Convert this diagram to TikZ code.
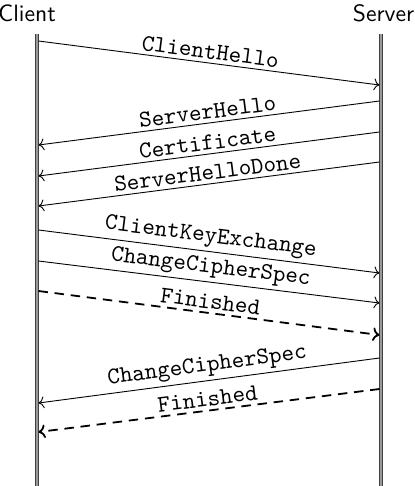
\documentclass[tikz,border=0pt]{standalone}
\usetikzlibrary{arrows.meta}
\begin{document}
\begin{tikzpicture}[x=0.444pt,y=-0.444pt,
  actor/.style={font=\sffamily\fontsize{10.5}{12}\selectfont, inner sep=0pt, anchor=base},
  lifeline/.style={draw=black!75, double=gray!80, double distance=1.1pt, line width=0.5pt},
  msg/.style={->, line width=0.4pt},
  finmsg/.style={-{To[length=3pt,width=6pt]}, thick, dashed, dash pattern=on 4.2pt off 3pt},
  lbl/.style={font=\ttfamily\fontsize{10.6}{12}\selectfont, sloped, above, midway, inner sep=1.5pt}]
\useasboundingbox (0,0) rectangle (415,486);
\node[actor] (client) at (27,21) {Client};
\node[actor] (server) at (383.5,21) {Server};
\coordinate (ctop) at (37,34);
\coordinate (cbot) at (37,490);
\coordinate (stop) at (381,34);
\coordinate (sbot) at (381,490);
\draw[lifeline] (ctop) -- (cbot);
\draw[lifeline] (stop) -- (sbot);
% message endpoints
\coordinate (c1) at (38.5,41);  \coordinate (s1) at (379.5,85);
\coordinate (s2) at (379.5,101); \coordinate (c2) at (38.5,145);
\coordinate (s3) at (379.5,132); \coordinate (c3) at (38.5,176);
\coordinate (s4) at (379.5,162); \coordinate (c4) at (38.5,206);
\coordinate (c5) at (38.5,230); \coordinate (s5) at (379.5,273);
\coordinate (c6) at (38.5,261); \coordinate (s6) at (379.5,303);
\coordinate (c7) at (38.5,291); \coordinate (s7) at (379.5,335);
\coordinate (s8) at (379.5,358); \coordinate (c8) at (38.5,403);
\coordinate (s9) at (379.5,389); \coordinate (c9) at (38.5,432);
\draw[msg] (c1) -- node[lbl] {ClientHello} (s1);
\draw[msg] (s2) -- node[lbl] {ServerHello} (c2);
\draw[msg] (s3) -- node[lbl] {Certificate} (c3);
\draw[msg] (s4) -- node[lbl] {ServerHelloDone} (c4);
\draw[msg] (c5) -- node[lbl] {ClientKeyExchange} (s5);
\draw[msg] (c6) -- node[lbl] {ChangeCipherSpec} (s6);
\draw[finmsg] (c7) -- node[lbl] {Finished} (s7);
\draw[msg] (s8) -- node[lbl] {ChangeCipherSpec} (c8);
\draw[finmsg] (s9) -- node[lbl] {Finished} (c9);
\end{tikzpicture}
\end{document}
